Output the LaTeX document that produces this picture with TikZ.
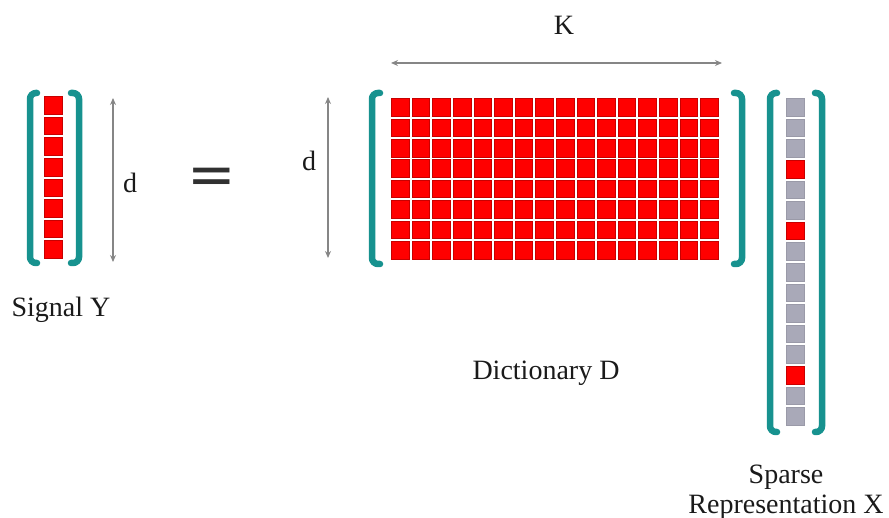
\documentclass[tikz,border=0pt]{standalone}
\usepackage{fontspec}
\setmainfont{LiberationSerif}[Extension=.ttf,UprightFont=*-Regular]
\newfontfamily\eqfont{DejaVu Sans}
\usetikzlibrary{arrows.meta,positioning}
\definecolor{brteal}{HTML}{17928F}
\definecolor{cellred}{HTML}{FF0000}
\definecolor{celledge}{HTML}{C80000}
\definecolor{cellgrey}{HTML}{A9A9B8}
\definecolor{greyedge}{HTML}{9A9AA8}
\definecolor{dimgrey}{HTML}{868686}
\definecolor{txt}{HTML}{1A1A1A}
\tikzset{
  rcell/.style={rectangle,draw=celledge,fill=cellred,line width=0.5pt,
                minimum size=17.6pt,inner sep=0pt},
  gcell/.style={rectangle,draw=greyedge,fill=cellgrey,line width=0.5pt,
                minimum size=17.6pt,inner sep=0pt},
  brk/.style={draw=brteal,line width=6.5pt,line cap=round,rounded corners=6pt},
  dimarr/.style={{Stealth[length=7pt,width=6pt]}-{Stealth[length=7pt,width=6pt]},
                 line width=1.6pt,color=dimgrey},
  lbl/.style={font=\fontsize{28}{30}\selectfont,text=txt,inner sep=0pt,align=center},
}

\begin{document}
\begin{tikzpicture}[x=1pt,y=-1pt]
  \useasboundingbox (0,0) rectangle (889,518);

  %% ── signal Y ─────────────────────────────────────────────────────────────
  \foreach \j in {0,...,7}
    \node[rcell] (y\j) at (53,{95+20.6*(\j+0.5)}) {};
  \draw[brk] (37,93) -- (30,93) -- (30,263) -- (37,263);
  \draw[brk] (71,93) -- (79,93) -- (79,263) -- (71,263);
  \coordinate (ytop) at (113,98);
  \coordinate (ybot) at (113,262);
  \draw[dimarr] (ytop) -- (ybot);
  \node[lbl] (yd) at (130,183) {d};
  \node[lbl] (ylab) at (61,310) {Signal Y};

  %% ── equals ───────────────────────────────────────────────────────────────
  \node[font=\eqfont\fontsize{58}{60}\selectfont,text=txt!90,inner sep=0pt]
        (eq) at (212,181) {=};

  %% ── dictionary D ─────────────────────────────────────────────────────────
  \foreach \i in {0,...,15}
    \foreach \j in {0,...,7}
      \node[rcell] (d\i-\j) at ({390+20.6*(\i+0.5)},{97+20.4*(\j+0.5)}) {};
  \draw[brk] (380,93) -- (372,93) -- (372,264) -- (380,264);
  \draw[brk] (734,93) -- (742,93) -- (742,264) -- (734,264);
  \coordinate (dtop) at (328,97);
  \coordinate (dbot) at (328,258);
  \draw[dimarr] (dtop) -- (dbot);
  \node[lbl] (dd) at (309,161) {d};
  \coordinate (kleft)  at (391,63);
  \coordinate (kright) at (722,63);
  \draw[dimarr] (kleft) -- (kright);
  \node[lbl] (kk) at (564,25) {K};
  \node[lbl] (dlab) at (546,373) {Dictionary D};

  %% ── sparse representation X ──────────────────────────────────────────────
  \foreach \j in {0,...,15}
    \node[gcell] (x\j) at (795.5,{97+20.6*(\j+0.5)}) {};
  \foreach \j in {3,6,13}
    \node[rcell] (xr\j) at (x\j) {};
  \draw[brk] (777,93) -- (770,93) -- (770,432) -- (777,432);
  \draw[brk] (815,93) -- (822,93) -- (822,432) -- (815,432);
  \node[lbl] (xlab) at (786,492) {Sparse\\Representation X};

\end{tikzpicture}
\end{document}
